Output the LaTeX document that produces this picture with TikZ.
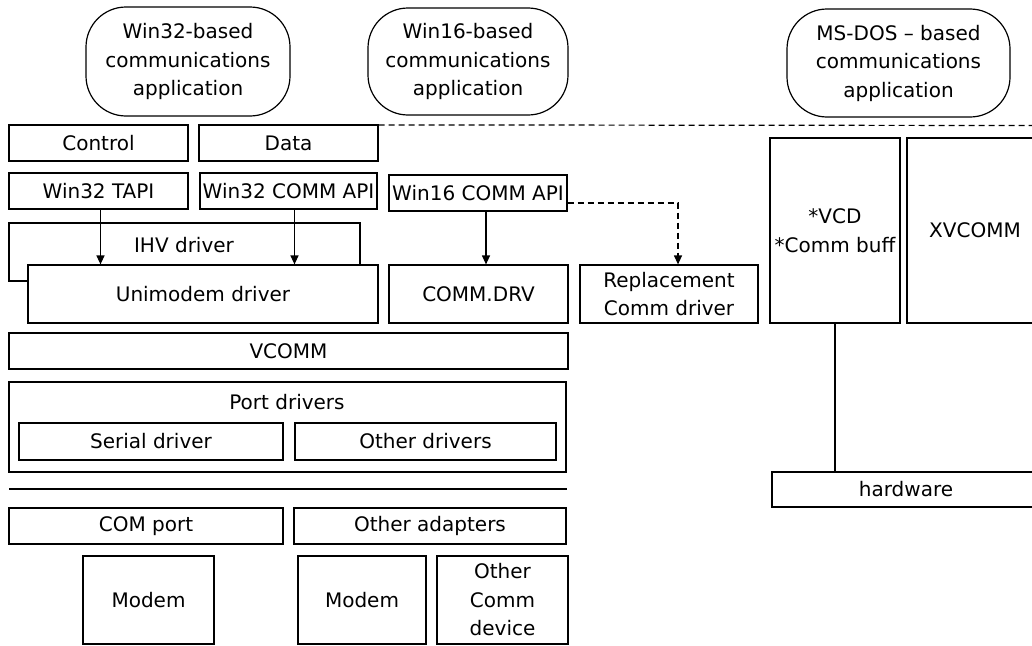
\documentclass[tikz,border=0pt]{standalone}
\usepackage{fontspec}
\setmainfont{DejaVu Sans}
\usetikzlibrary{arrows.meta,positioning}

\begin{document}
\begin{tikzpicture}[x=1pt, y=-1pt,
    every node/.style={font=\fontsize{20}{28.5}\selectfont, align=center},
    blk/.style={draw, line width=1.2pt, inner sep=0pt, fill=white},
    app/.style={blk, rounded corners=40pt},
    link/.style={line width=1.2pt, -{Triangle[width=8pt,length=9pt]}},
    dashline/.style={line width=1.2pt, dash pattern=on 6pt off 4pt}]
  \useasboundingbox (0,0) rectangle (1032,645);
  \node[app, minimum width=204, minimum height=109] at (188,61.5) (app32) {Win32-based\\communications\\application};
  \node[app, minimum width=200, minimum height=107] at (468,61.5) (app16) {Win16-based\\communications\\application};
  \node[app, minimum width=223, minimum height=108] at (898.5,63) (appdos) {MS-DOS -- based\\communications\\application};
  \node[blk, minimum width=179, minimum height=36] at (98.5,143) (ctrl) {Control};
  \node[blk, minimum width=179, minimum height=36] at (288.5,143) (data) {Data};
  \node[blk, minimum width=179, minimum height=36] at (98.5,191) (tapi) {Win32 TAPI};
  \node[blk, minimum width=177, minimum height=36] at (288.5,191) (api32) {Win32 COMM API};
  \node[blk, minimum width=178, minimum height=36] at (478,193) (api16) {Win16 COMM API};
  \node[blk, minimum width=351, minimum height=58] at (184.5,252) (ihv) {};
  \node at (184,245) (ihvtxt) {IHV driver};
  \node[blk, minimum width=350, minimum height=58] at (203,294) (unimodem) {Unimodem driver};
  \node[blk, minimum width=179, minimum height=58] at (478.5,294) (commdrv) {COMM.DRV};
  \node[blk, minimum width=178, minimum height=58] at (669,294) (repl) {Replacement\\Comm driver};
  \node[blk, minimum width=559, minimum height=36] at (288.5,351) (vcomm) {VCOMM};
  \node[blk, minimum width=557, minimum height=90] at (287.5,427) (ports) {};
  \node at (287,402) (porttxt) {Port drivers};
  \node[blk, minimum width=264, minimum height=37] at (151,441.5) (serial) {Serial driver};
  \node[blk, minimum width=261, minimum height=37] at (425.5,441.5) (otherdrv) {Other drivers};
  \node[blk, minimum width=274, minimum height=36] at (146,526) (comport) {COM port};
  \node[blk, minimum width=272, minimum height=36] at (430,526) (otheradp) {Other adapters};
  \node[blk, minimum width=131, minimum height=88] at (148.5,600) (modema) {Modem};
  \node[blk, minimum width=128, minimum height=88] at (362,600) (modemb) {Modem};
  \node[blk, minimum width=131, minimum height=88] at (502.5,600) (otherdev) {Other\\Comm\\device};
  \node[blk, minimum width=130, minimum height=185] at (835,230.5) (vcd) {{*}VCD\\{*}Comm buff};
  \node[blk, minimum width=136, minimum height=185] at (975,230.5) (xvcomm) {XVCOMM};
  \node[blk, minimum width=268, minimum height=35] at (906,489.5) (hw) {hardware};
  \coordinate (edge) at (1032,125.5);
  \coordinate (sepl) at (9,489);
  \coordinate (sepr) at (567,489);
  \draw[dashline] ([yshift=-0.5pt]data.north east) -- (edge);
  \draw[line width=1.2pt] (sepl) -- (sepr);
  \draw[link] ([xshift=2pt]tapi.south) -- ([xshift=2pt]tapi.south |- unimodem.north);
  \draw[link] ([xshift=6pt]api32.south) -- ([xshift=6pt]api32.south |- unimodem.north);
  \draw[link] ([xshift=8pt]api16.south) -- ([xshift=8pt]api16.south |- commdrv.north);
  \draw[link, dashline] ([yshift=-10pt]api16.east) -| ([xshift=9pt]repl.north);
  \draw[line width=1.2pt] (vcd.south) -- (vcd.south |- hw.north);
\end{tikzpicture}
\end{document}
